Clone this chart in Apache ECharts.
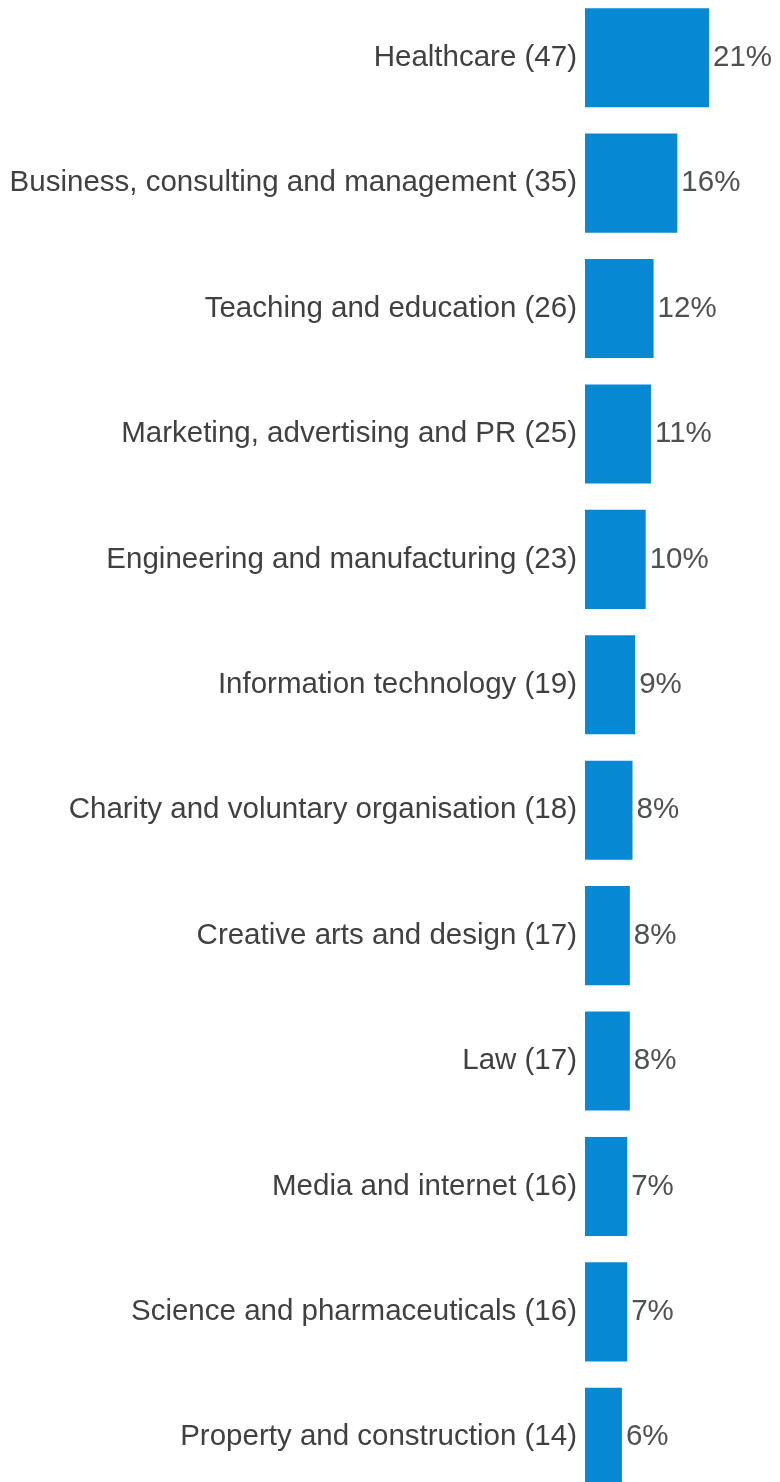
<!DOCTYPE html>
<html>
<head>
<meta charset="utf-8">
<script src="https://cdn.jsdelivr.net/npm/echarts@6/dist/echarts.min.js"></script>
<style>
  html, body { margin: 0; padding: 0; background: #fff; }
  #chart { width: 780px; height: 1482px; }
</style>
</head>
<body>
<div id="chart"></div>
<script>
const categories = [
  'Healthcare',
  'Business, consulting and management',
  'Teaching and education',
  'Marketing, advertising and PR',
  'Engineering and manufacturing',
  'Information technology',
  'Charity and voluntary organisation',
  'Creative arts and design',
  'Law',
  'Media and internet',
  'Science and pharmaceuticals',
  'Property and construction'
];
const counts = [47, 35, 26, 25, 23, 19, 18, 17, 17, 16, 16, 14];
const percents = ['21%', '16%', '12%', '11%', '10%', '9%', '8%', '8%', '8%', '7%', '7%', '6%'];

const chart = echarts.init(document.getElementById('chart'), null, { renderer: 'canvas' });

const font = '"Liberation Sans", Arial, sans-serif';

chart.setOption({
  animation: false,
  grid: {
    left: 585,
    right: 71,
    top: -5,
    height: 1505,
    outerBoundsMode: 'none'
  },
  xAxis: {
    type: 'value',
    min: 0,
    max: 47,
    show: false
  },
  yAxis: {
    type: 'category',
    inverse: true,
    data: categories,
    axisLine: { show: false },
    axisTick: { show: false },
    axisLabel: {
      margin: 8,
      color: '#404040',
      fontFamily: font,
      fontSize: 29.5,
      formatter: (v, i) => `${v} (${counts[i]})`
    }
  },
  series: [{
    type: 'bar',
    data: counts,
    barCategoryGap: '21%',
    itemStyle: { color: '#0788d3' },
    label: {
      show: true,
      position: 'right',
      distance: 4,
      color: '#505050',
      fontFamily: font,
      fontSize: 29.5,
      formatter: (p) => percents[p.dataIndex]
    }
  }]
});
</script>
</body>
</html>
